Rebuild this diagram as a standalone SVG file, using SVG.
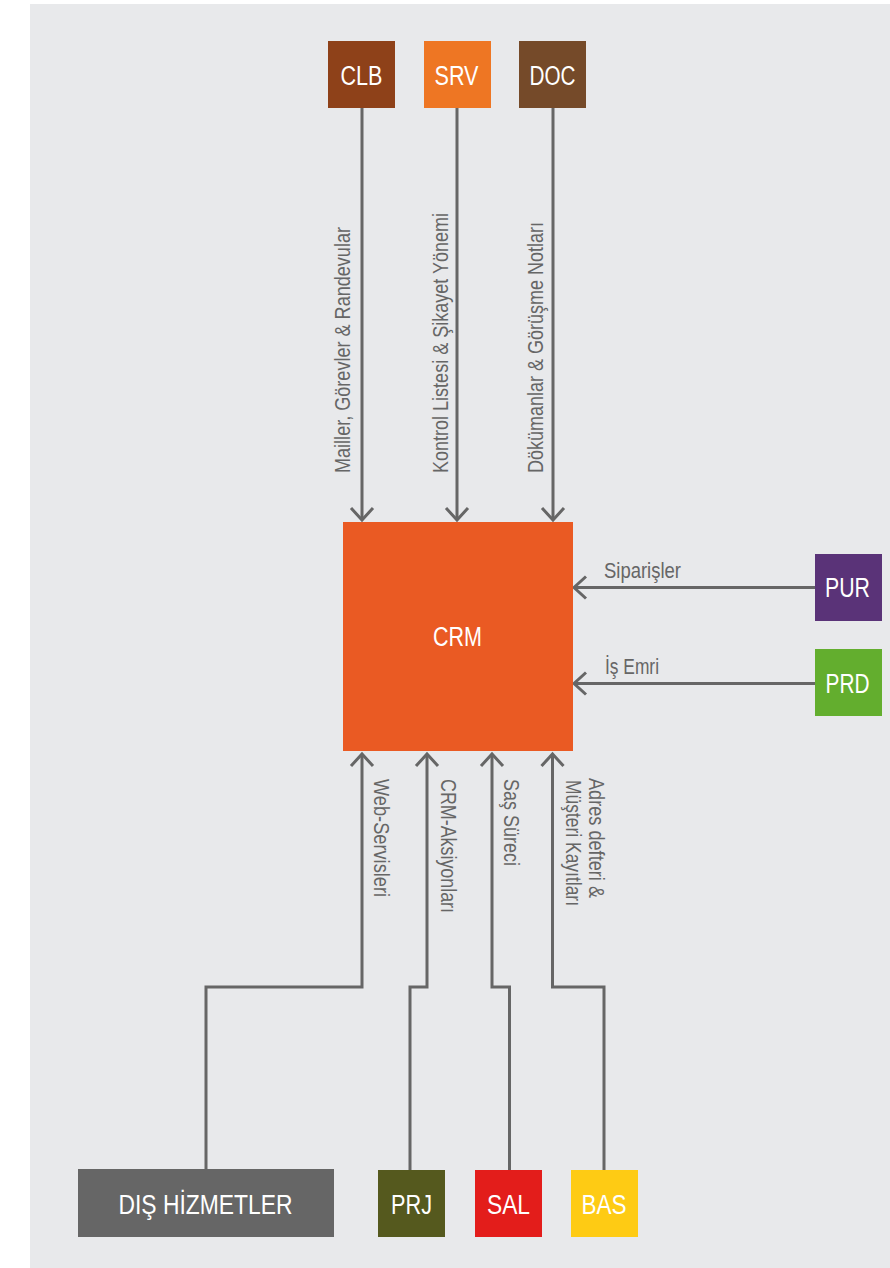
<svg xmlns="http://www.w3.org/2000/svg" width="890" height="1268" viewBox="0 0 890 1268">
<style>
.box-label{font-family:"Liberation Sans",Arial,sans-serif;font-size:27px;fill:#ffffff;text-anchor:middle}
.lbl{font-family:"Liberation Sans",Arial,sans-serif;font-size:22px;fill:#666666}
.conn{fill:none;stroke:#666666;stroke-width:3;stroke-linejoin:miter}
</style>
<defs>
<marker id="arr" markerUnits="userSpaceOnUse" viewBox="-16 -16 20 32" refX="0" refY="0" markerWidth="20" markerHeight="32" orient="auto">
<path d="M-12,-11 L0,0 L-12,11" fill="none" stroke="#666666" stroke-width="3"/>
</marker>
</defs>
<rect x="30" y="4" width="860" height="1264" fill="#e8e9eb"/>
<g id="connectors">
<path class="conn" d="M362,108 V520" marker-end="url(#arr)"/>
<path class="conn" d="M457,108 V520" marker-end="url(#arr)"/>
<path class="conn" d="M553,108 V520" marker-end="url(#arr)"/>
<path class="conn" d="M815,587.5 H574" marker-end="url(#arr)"/>
<path class="conn" d="M815,683.5 H574" marker-end="url(#arr)"/>
<path class="conn" d="M206,1169 V987 H362 V754" marker-end="url(#arr)"/>
<path class="conn" d="M410,1170 V987 H427 V754" marker-end="url(#arr)"/>
<path class="conn" d="M509.5,1170 V987 H492 V754" marker-end="url(#arr)"/>
<path class="conn" d="M604,1170 V987 H552.5 V754" marker-end="url(#arr)"/>
<text class="lbl" transform="translate(349.5,473) rotate(-90)" textLength="246" lengthAdjust="spacingAndGlyphs">Mailler, Görevler &amp; Randevular</text>
<text class="lbl" transform="translate(447.5,473) rotate(-90)" textLength="260" lengthAdjust="spacingAndGlyphs">Kontrol Listesi &amp; Şikayet Yönemi</text>
<text class="lbl" transform="translate(542.7,473) rotate(-90)" textLength="251" lengthAdjust="spacingAndGlyphs">Dökümanlar &amp; Görüşme Notları</text>
<text class="lbl" x="604" y="578" textLength="77" lengthAdjust="spacingAndGlyphs">Siparişler</text>
<text class="lbl" x="605" y="673.5" textLength="54" lengthAdjust="spacingAndGlyphs">İş Emri</text>
<text class="lbl" transform="translate(373.5,779) rotate(90)" textLength="118" lengthAdjust="spacingAndGlyphs">Web-Servisleri</text>
<text class="lbl" transform="translate(440.5,779) rotate(90)" textLength="134" lengthAdjust="spacingAndGlyphs">CRM-Aksiyonları</text>
<text class="lbl" transform="translate(504,779) rotate(90)" textLength="87" lengthAdjust="spacingAndGlyphs">Saş Süreci</text>
<text class="lbl" transform="translate(589,778) rotate(90)" textLength="120" lengthAdjust="spacingAndGlyphs">Adres defteri &amp;</text>
<text class="lbl" transform="translate(566,780) rotate(90)" textLength="126" lengthAdjust="spacingAndGlyphs">Müşteri Kayıtları</text>
</g>
<g id="CLB"><rect x="328" y="41" width="67" height="67" fill="#8e4119"/><text class="box-label" x="361.5" y="84.5" textLength="42" lengthAdjust="spacingAndGlyphs">CLB</text></g>
<g id="SRV"><rect x="424" y="41" width="67" height="67" fill="#ee7623"/><text class="box-label" x="456.5" y="84.5" textLength="44" lengthAdjust="spacingAndGlyphs">SRV</text></g>
<g id="DOC"><rect x="519" y="41" width="67" height="67" fill="#754a29"/><text class="box-label" x="552.5" y="84.5" textLength="46" lengthAdjust="spacingAndGlyphs">DOC</text></g>
<g id="CRM"><rect x="343" y="522" width="230" height="229" fill="#ea5a23"/><text class="box-label" x="457.5" y="646" textLength="49" lengthAdjust="spacingAndGlyphs">CRM</text></g>
<g id="PUR"><rect x="815" y="554" width="67" height="67" fill="#5a3378"/><text class="box-label" x="847.5" y="597" textLength="45" lengthAdjust="spacingAndGlyphs">PUR</text></g>
<g id="PRD"><rect x="815" y="649" width="67" height="67" fill="#63ae2e"/><text class="box-label" x="847.5" y="693" textLength="44" lengthAdjust="spacingAndGlyphs">PRD</text></g>
<g id="DIS"><rect x="78" y="1169" width="256" height="68" fill="#666666"/><text class="box-label" x="205.5" y="1214" textLength="174" lengthAdjust="spacingAndGlyphs">DIŞ HİZMETLER</text></g>
<g id="PRJ"><rect x="378" y="1170" width="67" height="67" fill="#55591e"/><text class="box-label" x="411.5" y="1214" textLength="41" lengthAdjust="spacingAndGlyphs">PRJ</text></g>
<g id="SAL"><rect x="475" y="1170" width="67" height="67" fill="#e31d1b"/><text class="box-label" x="508.5" y="1214" textLength="43" lengthAdjust="spacingAndGlyphs">SAL</text></g>
<g id="BAS"><rect x="571" y="1170" width="67" height="67" fill="#fecb14"/><text class="box-label" x="604" y="1214" textLength="45" lengthAdjust="spacingAndGlyphs">BAS</text></g>
</svg>
